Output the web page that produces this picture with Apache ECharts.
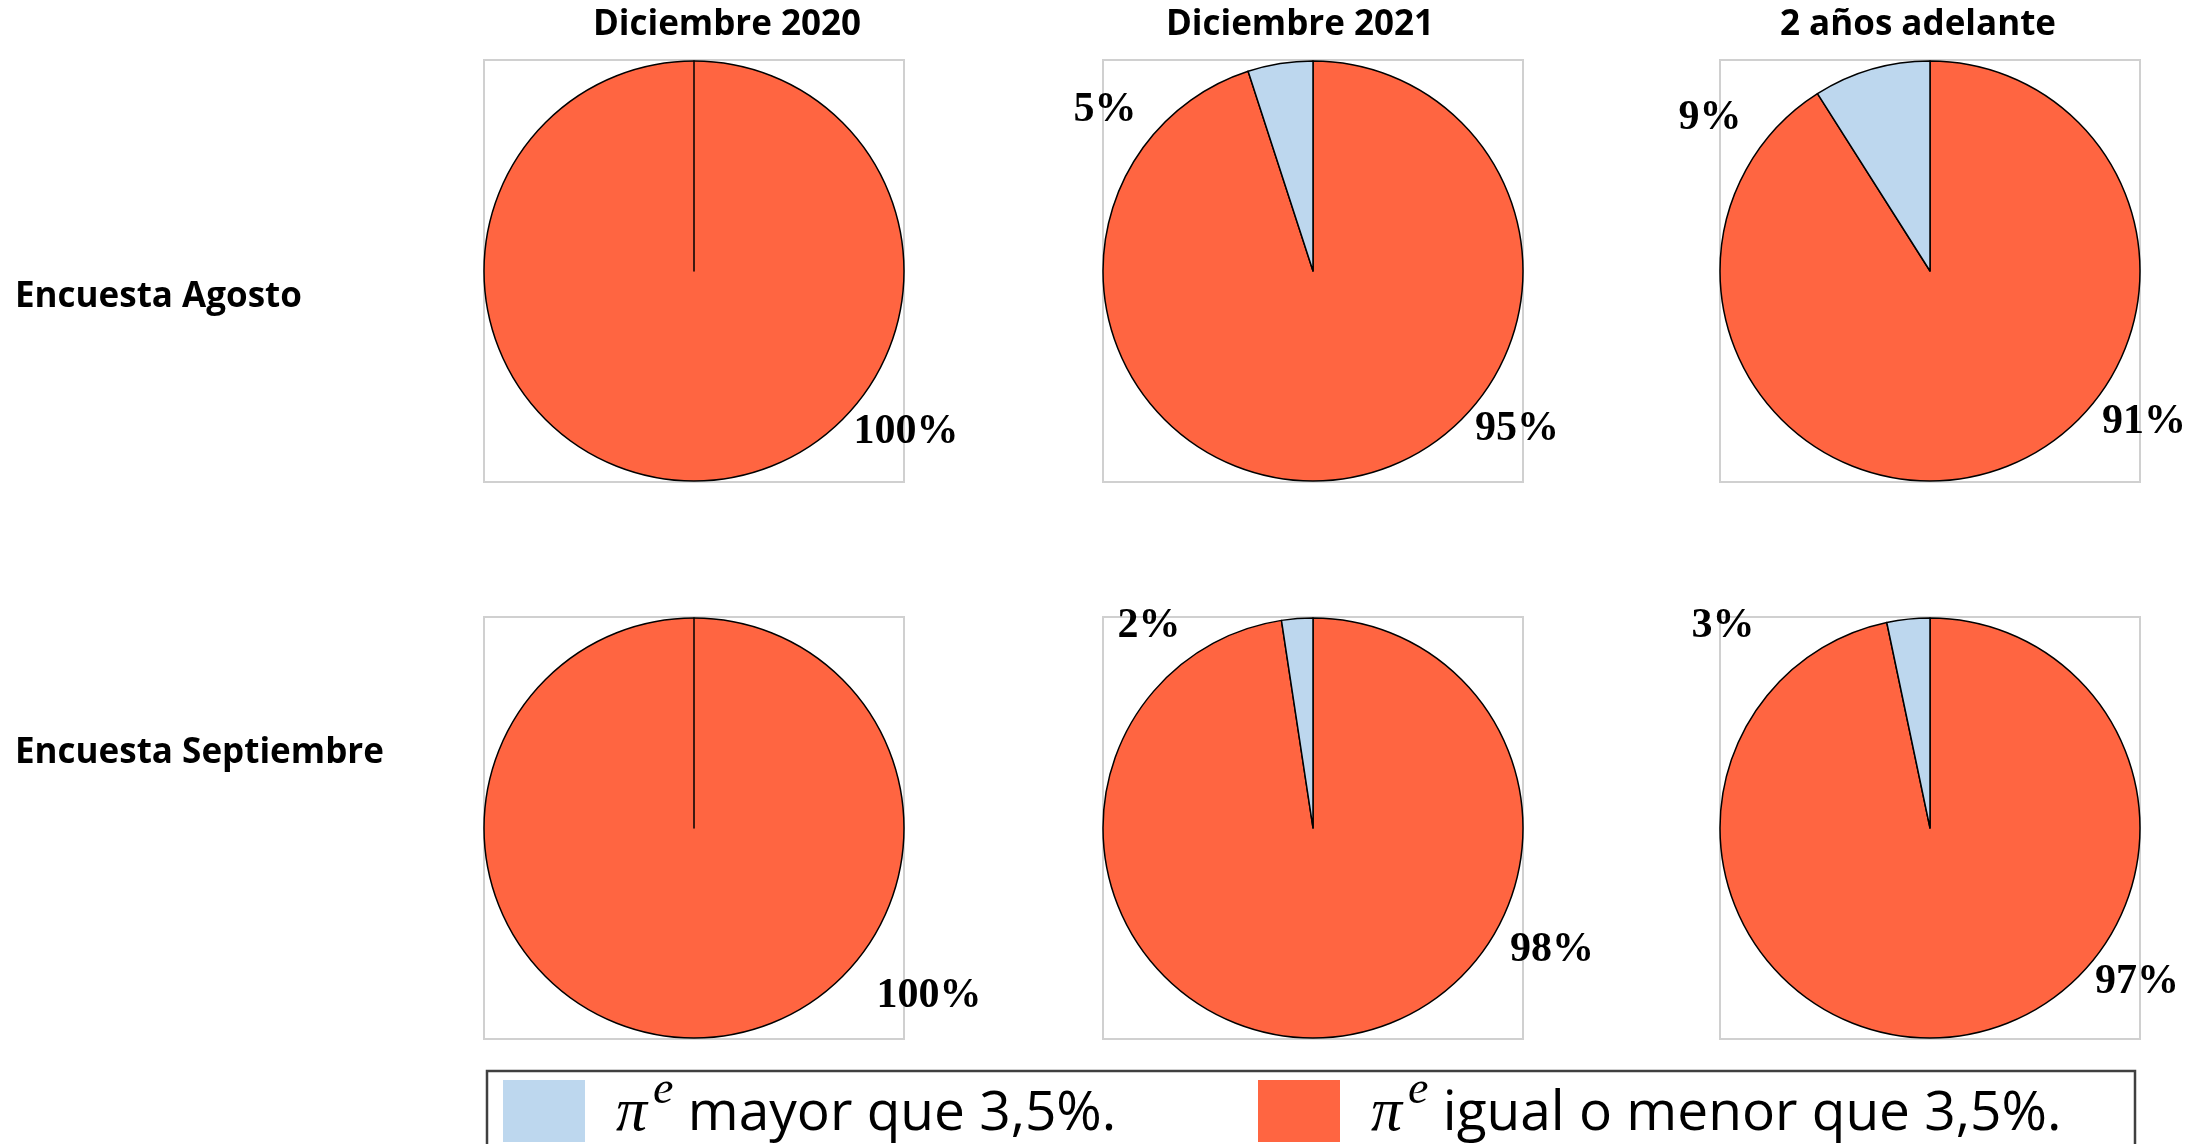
<!DOCTYPE html>
<html>
<head>
    <meta charset="utf-8">
    <title>Expectativas de inflación</title>
    <script src="https://cdn.jsdelivr.net/npm/echarts@6/dist/echarts.min.js"></script>
    <style>
        html, body { margin: 0; padding: 0; background: #fff; }
        #chart { width: 2207px; height: 1144px; }
    </style>
</head>
<body>
<div id="chart"></div>
<script>
    // datos
    const columnas = ['Diciembre 2020', 'Diciembre 2021', '2 años adelante'];
    const filas = ['Encuesta Agosto', 'Encuesta Septiembre'];
    const categorias = ['mayor que 3,5%.', 'igual o menor que 3,5%.'];
    const mayorAgosto = [0, 5, 9];
    const menorAgosto = [100, 95, 91];
    const mayorSeptiembre = [0, 2.4, 3.3];
    const menorSeptiembre = [100, 97.6, 96.7];

    // layout
    const colX = [694, 1313, 1930];
    const rowY = [271, 828];
    const radio = 210;
    const tituloX = [727, 1300, 1918];
    // desplazamiento de etiquetas respecto al centro: [menor, mayor]
    const etiquetas = [
        [[[212, 161], null], [[204, 158], [-208, -161]], [[214, 151], [-220, -153]]],
        [[[235, 168], null], [[239, 122], [-164, -202]], [[207, 154], [-207, -202]]]
    ];
    const colores = ['#BDD7EE', '#FF6541'];
    const serif = '"Liberation Serif", "Times New Roman", serif';

    let chart = echarts.init(document.getElementById('chart'));

    let mayor = [mayorAgosto, mayorSeptiembre];
    let menor = [menorAgosto, menorSeptiembre];
    let series = [];
    let graphic = [];

    for (let r = 0; r < 2; r++) {
        for (let c = 0; c < 3; c++) {
            let cx = colX[c], cy = rowY[r];
            let offs = etiquetas[r][c];
            graphic.push({
                type: 'rect',
                shape: {x: cx - radio, y: cy - radio - 1, width: radio * 2, height: radio * 2 + 2},
                style: {fill: 'none', stroke: '#d0d0d0', lineWidth: 2},
                z: 0
            });
            series.push({
                type: 'pie',
                center: [cx, cy],
                radius: radio,
                startAngle: 90,
                clockwise: true,
                percentPrecision: 0,
                animation: false,
                silent: true,
                itemStyle: {borderColor: '#000', borderWidth: 1.5},
                label: {
                    show: true,
                    position: 'outside',
                    fontFamily: serif,
                    fontWeight: 'bold',
                    fontSize: 42,
                    color: '#000',
                    formatter: function (p) {
                        return p.value === 0 ? '' : p.percent + '%';
                    }
                },
                labelLine: {show: false},
                labelLayout: function (p) {
                    let o = offs[p.dataIndex];
                    if (!o) return {};
                    return {x: cx + o[0], y: cy + o[1], align: 'center', verticalAlign: 'middle'};
                },
                data: [
                    {name: categorias[1], value: menor[r][c], itemStyle: {color: colores[1]}},
                    {name: categorias[0], value: mayor[r][c], itemStyle: {color: colores[0]}}
                ]
            });
        }
    }

    columnas.forEach(function (t, i) {
        graphic.push({
            type: 'text', x: tituloX[i], y: 25,
            style: {text: t, fontFamily: 'Open Sans', fontWeight: 'bold', fontSize: 35,
                fill: '#000', align: 'center', verticalAlign: 'middle'}
        });
    });
    filas.forEach(function (t, i) {
        graphic.push({
            type: 'text', x: 15, y: [297, 753][i],
            style: {text: t, fontFamily: 'Open Sans', fontWeight: 'bold', fontSize: 35,
                fill: '#000', align: 'left', verticalAlign: 'middle'}
        });
    });
    // caja de la leyenda
    graphic.push({
        type: 'rect',
        shape: {x: 487, y: 1071, width: 1648, height: 120},
        style: {fill: 'none', stroke: '#404040', lineWidth: 2.5}
    });

    let richLeyenda = {
        pi: {fontFamily: serif, fontStyle: 'italic', fontSize: 62, color: '#000', padding: [15, 0, 9, 26]},
        e: {fontFamily: serif, fontStyle: 'italic', fontSize: 46, color: '#000', verticalAlign: 'top', padding: [0, 0, 38, 6]},
        t: {fontFamily: 'Open Sans', fontSize: 55, color: '#000', padding: [15, 0, 9, 0]}
    };
    function leyenda(nombre, x) {
        return {
            data: [nombre],
            left: x,
            top: 1068,
            padding: 0,
            icon: 'rect',
            itemWidth: 82,
            itemHeight: 62,
            selectedMode: false,
            itemStyle: {borderWidth: 0},
            formatter: function (n) {
                return '{pi|π}{e|e}{t| ' + n + '}';
            },
            textStyle: {rich: richLeyenda}
        };
    }

    let option = {
        backgroundColor: '#fff',
        animation: false,
        legend: [leyenda(categorias[0], 503), leyenda(categorias[1], 1258)],
        graphic: graphic,
        series: series
    };

    chart.setOption(option);
</script>
</body>
</html>
